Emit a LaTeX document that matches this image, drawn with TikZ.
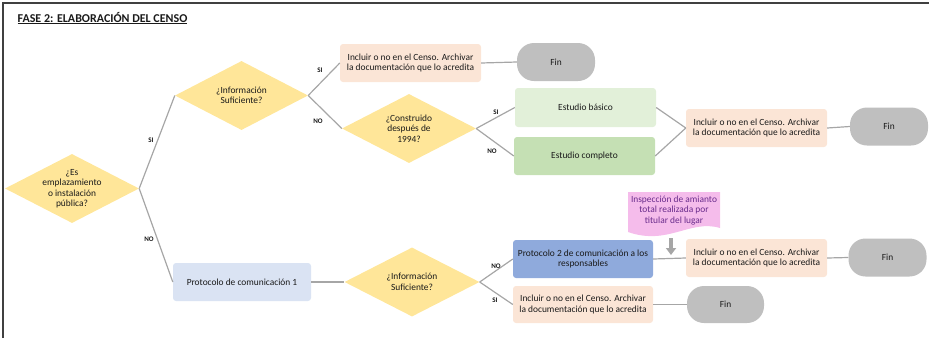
\documentclass[tikz,border=0pt]{standalone}
\usepackage{fontspec}
\setmainfont{Carlito}
\usetikzlibrary{shapes.geometric,arrows.meta}
\definecolor{diay}{HTML}{FFE699}
\definecolor{incl}{HTML}{FBE5D6}
\definecolor{fing}{HTML}{BFBFBF}
\definecolor{ebg}{HTML}{E2F0D9}
\definecolor{ecg}{HTML}{C5E0B4}
\definecolor{p1b}{HTML}{DAE3F3}
\definecolor{p2b}{HTML}{8FAADC}
\definecolor{pinkd}{HTML}{F5BCEB}
\definecolor{purp}{HTML}{6A2C8C}
\definecolor{linegray}{HTML}{A6A6A6}
\definecolor{framec}{HTML}{404040}
\definecolor{txt}{HTML}{1A1A1A}
\tikzset{
  dia/.style={shape=diamond, fill=diay, minimum width=134pt, minimum height=69pt, inner sep=0pt},
  dtext/.style={align=center, font=\fontsize{9.4}{10.5}\selectfont, text=txt},
  boxn/.style={rectangle, rounded corners=3pt, minimum width=141pt, minimum height=38pt, align=center, font=\fontsize{9.4}{10.7}\selectfont, text=txt, inner sep=1pt},
  finn/.style={rectangle, rounded corners=17pt, fill=fing, minimum width=78pt, minimum height=38pt, font=\fontsize{9.4}{10.7}\selectfont, text=txt},
  conn/.style={draw=linegray, line width=1.2pt},
  lab/.style={font=\fontsize{7}{8}\selectfont\bfseries, text=txt, inner sep=0pt}
}
\begin{document}
\begin{tikzpicture}[x=1pt,y=-1pt]
\useasboundingbox (0,0) rectangle (929,338);
% frame
\draw[framec, line width=1.5pt] (3,338) -- (3,3) -- (929,3);
% title
\node[anchor=west, font=\fontsize{12}{14}\selectfont\bfseries, text=txt, inner sep=0pt] (title) at (17.5,18) {\underline{FASE 2: ELABORACIÓN DEL CENSO}};

% diamonds
\node[dia, label={[dtext]center:¿Es\\emplazamiento\\o instalación\\pública?}] (d1) at (72,188.5) {};
\node[dia, minimum width=133pt, label={[dtext]center:¿Información\\Suficiente?}] (d2) at (241.5,95.5) {};
\node[dia, label={[dtext]center:¿Construido\\después de\\1994?}] (d3) at (409,128.5) {};
\node[dia, minimum width=135pt, label={[dtext]center:¿Información\\Suficiente?}] (d4) at (412,282) {};

% boxes
\node[boxn, fill=incl] (inc1) at (410.5,63) {Incluir o no en el Censo. Archivar\\la documentación que lo acredita};
\node[finn] (fin1) at (556,62) {Fin};
\node[boxn, fill=ebg, minimum height=39pt] (eb) at (585.5,107.5) {Estudio básico};
\node[boxn, fill=ecg] (ec) at (584.5,156) {Estudio completo};
\node[boxn, fill=incl] (inc2) at (756.5,128) {Incluir o no en el Censo. Archivar\\la documentación que lo acredita};
\node[finn] (fin2) at (889,126.5) {Fin};
\node[boxn, fill=p1b, minimum width=138pt] (p1) at (242,282) {Protocolo de comunicación 1};
\node[boxn, fill=p2b, minimum width=140pt] (p2) at (583,259) {Protocolo 2 de comunicación a los\\responsables};
\node[boxn, fill=incl, minimum width=140pt, minimum height=37pt] (inc3) at (583,304.5) {Incluir o no en el Censo. Archivar\\la documentación que lo acredita};
\node[finn, minimum height=37pt, minimum width=77pt] (fin3) at (725.5,304.5) {Fin};
\node[boxn, fill=incl] (inc4) at (756.5,258) {Incluir o no en el Censo. Archivar\\la documentación que lo acredita};
\node[finn] (fin4) at (887.5,257.5) {Fin};

% pink document shape
\fill[pinkd] (628,192) -- (720,192) -- (720,228) .. controls (690,219) and (668,246) .. (628,232) -- cycle;
\node[align=center, font=\fontsize{9.4}{10.8}\selectfont, text=purp, inner sep=0pt] (insp) at (674,210.5) {Inspección de amianto\\total realizada por\\titular del lugar};

% connectors
\draw[conn] (d1.east) -- (d2.west);
\draw[conn] (d1.east) -- (p1.west);
\draw[conn] (d2.east) -- (inc1.west);
\draw[conn] (d2.east) -- (d3.west);
\draw[conn] (inc1.east) -- (fin1.west);
\draw[conn] (d3.east) -- (eb.west);
\draw[conn] (d3.east) -- (ec.west);
\draw[conn] (eb.east) -- (inc2.west);
\draw[conn] (ec.east) -- (inc2.west);
\draw[conn] (inc2.east) -- (fin2.west);
\draw[conn] (p1.east) -- (d4.west);
\draw[conn] (d4.east) -- (p2.west);
\draw[conn] (d4.east) -- (inc3.west);
\draw[conn] (inc3.east) -- (fin3.west);
\draw[conn] (p2.east) -- (inc4.west);
\draw[conn] (inc4.east) -- (fin4.west);

% block arrow
\coordinate (arrS) at (671,238);
\coordinate (arrE) at (671,255);
\draw[draw=linegray, line width=3.5pt, -{Triangle[width=10pt,length=7pt]}] (arrS) -- (arrE);

% labels
\node[lab] (l1) at (151,140) {SI};
\node[lab] (l2) at (149,239) {NO};
\node[lab] (l3) at (320,70) {SI};
\node[lab] (l4) at (318,121) {NO};
\node[lab] (l5) at (496,112) {SI};
\node[lab] (l6) at (492,151) {NO};
\node[lab] (l7) at (496,266) {NO};
\node[lab] (l8) at (495,300) {SI};
\end{tikzpicture}
\end{document}
